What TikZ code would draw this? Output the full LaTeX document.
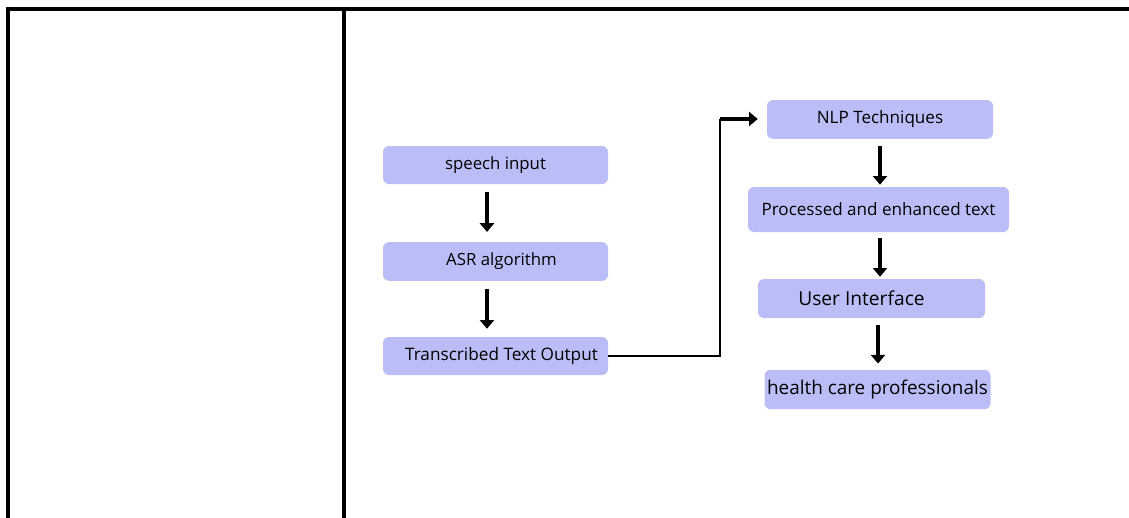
\documentclass[tikz,border=0pt]{standalone}
\usepackage{fontspec}
\setmainfont{Open Sans}
\usetikzlibrary{arrows.meta,calc}
\definecolor{boxfill}{HTML}{BBBDF6}
\tikzset{
  stage/.style={fill=boxfill, rounded corners=4.5pt, inner sep=0pt, align=center},
  flow/.style={line width=2.9pt, -{Triangle[width=10.5pt,length=6.5pt]}},
  rule/.style={line width=2.3pt, black}
}
\begin{document}
\begin{tikzpicture}[x=0.75pt,y=-0.75pt]
\useasboundingbox (0,0) rectangle (1129,518);
% table frame
\draw[rule] (8,518) -- (8,9) -- (1129,9);
\draw[rule] (344,9) -- (344,518);

% left column
\node[stage, minimum width=168.75pt, minimum height=28.5pt, font=\fontsize{12.6}{14}\selectfont] (speech) at (495.5,165) {speech input};
\node[stage, minimum width=168.75pt, minimum height=29pt, font=\fontsize{12.6}{14}\selectfont] (asr) at (495.5,261.5) {\hspace*{9pt}ASR algorithm};
\node[stage, minimum width=168.75pt, minimum height=28.5pt, font=\fontsize{12.9}{15}\selectfont] (trans) at (495.5,356) {\hspace*{9pt}Transcribed Text Output};

% right column
\node[stage, minimum width=169.5pt, minimum height=29pt, font=\fontsize{12.8}{14}\selectfont] (nlp) at (880,119.5) {NLP Techniques};
\node[stage, minimum width=195.75pt, minimum height=33.75pt, font=\fontsize{12.8}{14}\selectfont] (proc) at (878.5,209.5) {Processed and enhanced text};
\node[stage, minimum width=170.25pt, minimum height=29.25pt, font=\fontsize{14.4}{16}\selectfont] (ui) at (871.5,298.5) {User Interface\hspace*{15pt}};
\node[stage, minimum width=169.5pt, minimum height=29.5pt, font=\fontsize{14.2}{16}\selectfont] (hcp) at (877.5,389.5) {health care professionals};

% columns of the vertical flow arrows
\coordinate (colL) at (487,0);
\coordinate (colR) at (880,0);
\coordinate (colU) at (878,0);

% vertical flow arrows
\draw[flow] ($(speech.south -| colL)+(0,8)$) -- ($(asr.north -| colL)+(0,-10)$);
\draw[flow] ($(asr.south -| colL)+(0,8)$) -- ($(trans.north -| colL)+(0,-8)$);
\draw[flow] ($(nlp.south -| colR)+(0,7)$) -- ($(proc.north -| colR)+(0,-2)$);
\draw[flow] ($(proc.south -| colR)+(0,6)$) -- ($(ui.north -| colR)+(0,-2)$);
\draw[flow] ($(ui.south -| colU)+(0,7)$) -- ($(hcp.north -| colU)+(0,-6)$);

% elbow link from the transcript to the NLP stage
\coordinate (lowbend) at (720,356);
\coordinate (topbend) at (720,119);
\draw[line width=1.4pt] (trans.east) -- (lowbend) -- (topbend);
\draw[flow, shorten >=6.75pt] (topbend) -- (topbend -| nlp.west);
\end{tikzpicture}
\end{document}
